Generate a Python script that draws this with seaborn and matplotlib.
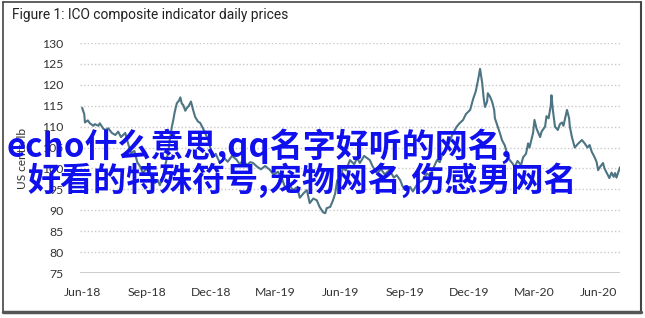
import matplotlib
matplotlib.use("Agg")
import matplotlib.pyplot as plt
from matplotlib.lines import Line2D
import seaborn as sns
import pandas as pd

# ---- data ----
dates = [
    "2018-06-01","2018-06-04","2018-06-05","2018-06-09","2018-06-12","2018-06-17","2018-06-19","2018-06-24","2018-06-26",
    "2018-07-01","2018-07-04","2018-07-08","2018-07-13","2018-07-18","2018-07-22","2018-07-26","2018-08-01","2018-08-05",
    "2018-08-09","2018-08-14","2018-08-18","2018-08-22","2018-08-26","2018-08-30","2018-09-02","2018-09-07","2018-09-12",
    "2018-09-16","2018-09-19","2018-09-24","2018-09-26","2018-10-01","2018-10-03","2018-10-06","2018-10-08","2018-10-10",
    "2018-10-13","2018-10-16","2018-10-18","2018-10-20","2018-10-22","2018-10-25","2018-10-27","2018-10-30","2018-11-02",
    "2018-11-05","2018-11-08","2018-11-12","2018-11-15","2018-11-19","2018-11-22","2018-11-26","2018-11-30","2018-12-03",
    "2018-12-07","2018-12-13","2018-12-19","2018-12-24","2018-12-30","2019-01-05","2019-01-10","2019-01-15","2019-01-20",
    "2019-01-25","2019-01-29","2019-02-03","2019-02-09","2019-02-15","2019-02-22","2019-02-27","2019-03-05","2019-03-11",
    "2019-03-15","2019-03-21","2019-03-26","2019-04-01","2019-04-05","2019-04-11","2019-04-15","2019-04-19","2019-04-24",
    "2019-04-29","2019-05-03","2019-05-08","2019-05-11","2019-05-13","2019-05-18","2019-05-22","2019-05-25","2019-05-28",
    "2019-06-01","2019-06-05","2019-06-09","2019-06-15","2019-06-21","2019-06-25","2019-06-29","2019-07-05","2019-07-09",
    "2019-07-13","2019-07-17","2019-07-23","2019-07-29","2019-08-03","2019-08-10","2019-08-16","2019-08-20","2019-08-25",
    "2019-08-29","2019-09-03","2019-09-08","2019-09-12","2019-09-18","2019-09-22","2019-09-26","2019-10-02","2019-10-06",
    "2019-10-12","2019-10-16","2019-10-20","2019-10-24","2019-10-30","2019-11-03","2019-11-08","2019-11-13","2019-11-17",
    "2019-11-22","2019-11-26","2019-12-02","2019-12-06","2019-12-10","2019-12-13","2019-12-16","2019-12-19","2019-12-21",
    "2019-12-23","2019-12-26","2019-12-27","2019-12-30","2020-01-02","2020-01-05","2020-01-06","2020-01-10","2020-01-13",
    "2020-01-16","2020-01-20","2020-01-24","2020-01-27","2020-01-31","2020-02-03","2020-02-07","2020-02-12","2020-02-15",
    "2020-02-19","2020-02-22","2020-02-24","2020-02-29","2020-03-02","2020-03-05","2020-03-10","2020-03-12","2020-03-17",
    "2020-03-19","2020-03-22","2020-03-25","2020-03-26","2020-03-28","2020-03-31","2020-04-04","2020-04-07","2020-04-10",
    "2020-04-12","2020-04-17","2020-04-20","2020-04-21","2020-04-24","2020-04-28","2020-05-02","2020-05-08","2020-05-12",
    "2020-05-16","2020-05-19","2020-05-22","2020-05-26","2020-05-29","2020-05-31","2020-06-02","2020-06-07","2020-06-09",
    "2020-06-12","2020-06-16","2020-06-19","2020-06-22","2020-06-24","2020-06-26","2020-07-01",
]
prices = [
    114.5,113.0,111.0,111.5,110.8,110.2,110.6,110.2,110.8,
    109.5,109.2,109.6,108.5,108.0,108.8,107.5,108.5,106.0,
    103.7,104.2,101.5,100.5,98.9,99.8,99.6,98.0,96.5,
    97.2,96.0,98.5,100.3,104.0,106.8,110.0,111.6,113.5,
    115.6,116.2,117.0,115.5,115.2,113.8,114.4,115.0,116.0,
    114.0,112.3,111.2,110.9,109.6,108.5,107.0,104.5,102.7,
    103.5,101.3,102.5,101.6,103.0,102.2,101.0,102.0,100.8,
    101.5,101.3,100.5,99.8,100.6,99.6,98.5,99.2,97.5,
    95.5,96.2,94.8,95.5,93.0,94.2,94.8,91.7,92.8,
    92.4,90.8,89.5,89.3,90.5,90.8,92.4,94.0,97.2,
    96.5,100.3,99.5,102.0,101.0,102.5,101.3,103.0,102.5,
    102.0,100.5,98.9,99.8,98.6,99.6,97.8,98.4,97.2,
    95.5,94.8,95.6,94.5,96.2,96.8,97.2,98.8,98.2,
    100.5,102.0,101.5,103.5,105.0,106.5,108.5,110.0,110.8,
    111.6,113.0,114.0,116.5,118.5,121.0,123.8,120.5,117.0,
    114.7,116.0,118.0,117.2,116.0,114.0,112.0,110.0,108.5,
    106.8,105.5,103.0,102.0,101.2,100.3,101.8,100.8,102.7,
    103.5,106.0,105.0,108.5,111.6,109.5,107.5,108.8,110.0,
    112.5,112.0,115.0,117.5,114.0,110.0,109.2,110.6,111.0,
    110.2,114.0,112.0,110.0,107.5,105.0,105.8,106.8,106.0,
    105.0,105.6,104.0,102.7,101.5,99.6,100.2,101.3,100.0,
    99.0,97.7,99.0,98.0,98.9,97.8,100.3,
]
y_ticks = [75, 80, 85, 90, 95, 100, 105, 110, 115, 120, 125, 130]
x_tick_dates = ["2018-06-01","2018-09-01","2018-12-01","2019-03-01","2019-06-01",
                "2019-09-01","2019-12-01","2020-03-01","2020-06-01"]
x_tick_labels = ["Jun-18","Sep-18","Dec-18","Mar-19","Jun-19","Sep-19","Dec-19","Mar-20","Jun-20"]
title = "Figure 1: ICO composite indicator daily prices"
y_label = "US cents/lb"
overlay_1 = "echo什么意思,qq名字好听的网名,"
overlay_2 = "好看的特殊符号,宠物网名,伤感男网名"

df = pd.DataFrame({"date": pd.to_datetime(dates), "price": prices})

# ---- figure ----
sns.set_style("white")
plt.rcParams["font.family"] = ["Lato", "DejaVu Sans"]
W, H = 645, 318
fig = plt.figure(figsize=(W / 100, H / 100), dpi=100)
fig.patch.set_facecolor("white")

def fx(px):
    return px / W

def fy(py):
    return 1 - py / H

ax = fig.add_axes([fx(80), fy(273), fx(620) - fx(80), fy(43) - fy(273)])
for y in y_ticks[1:]:
    ax.axhline(y, color="#c9c9c9", lw=1.0, ls=(0, (1, 1.6)), zorder=0)
ax.axhline(75, color="#c4c4c4", lw=1.2, zorder=0)

sns.lineplot(data=df, x="date", y="price", ax=ax, color="#4d7483", lw=1.5, zorder=3)

ax.set_xlim(pd.Timestamp("2018-05-29"), pd.Timestamp("2020-07-01"))
ax.set_ylim(75, 130)
ax.set_yticks(y_ticks)
ax.set_yticklabels([str(v) for v in y_ticks])
ax.set_xticks(pd.to_datetime(x_tick_dates))
ax.set_xticklabels(x_tick_labels)
ax.tick_params(axis="y", length=0, pad=12, labelsize=8.8, labelcolor="#333333")
ax.tick_params(axis="x", length=0, pad=10, labelsize=8.8, labelcolor="#333333")
ax.set_xlabel("")
ax.set_ylabel("")
for s in ax.spines.values():
    s.set_visible(False)

fig.text(fx(22), fy(158), y_label, rotation=90, ha="center", va="center",
         fontsize=8.6, color="#333333")
fig.text(fx(12), fy(15), title, ha="left", va="center", fontsize=9.9,
         color="#222222", family=["Roboto", "DejaVu Sans"])

# frame
fig.add_artist(Line2D([fx(3), fx(641)], [fy(2), fy(2)], transform=fig.transFigure, color="#444444", lw=1.2))
fig.add_artist(Line2D([fx(3), fx(3)], [fy(2), fy(312)], transform=fig.transFigure, color="#444444", lw=1.2))
fig.add_artist(Line2D([fx(641), fx(641)], [fy(2), fy(312)], transform=fig.transFigure, color="#444444", lw=1.5))
fig.add_artist(Line2D([fx(3), fx(641)], [fy(311.5), fy(311.5)], transform=fig.transFigure, color="#555555", lw=2.5))

# overlay text
fig.text(fx(7), fy(146), overlay_1, ha="left", va="center", fontsize=23.8,
         color="#1010ee", fontweight="bold", family=["Noto Sans CJK SC", "DejaVu Sans"], zorder=10)
fig.text(fx(27), fy(180), overlay_2, ha="left", va="center", fontsize=23.8,
         color="#1010ee", fontweight="bold", family=["Noto Sans CJK SC", "DejaVu Sans"], zorder=10)

fig.savefig("out.png", dpi=100, facecolor="white")
